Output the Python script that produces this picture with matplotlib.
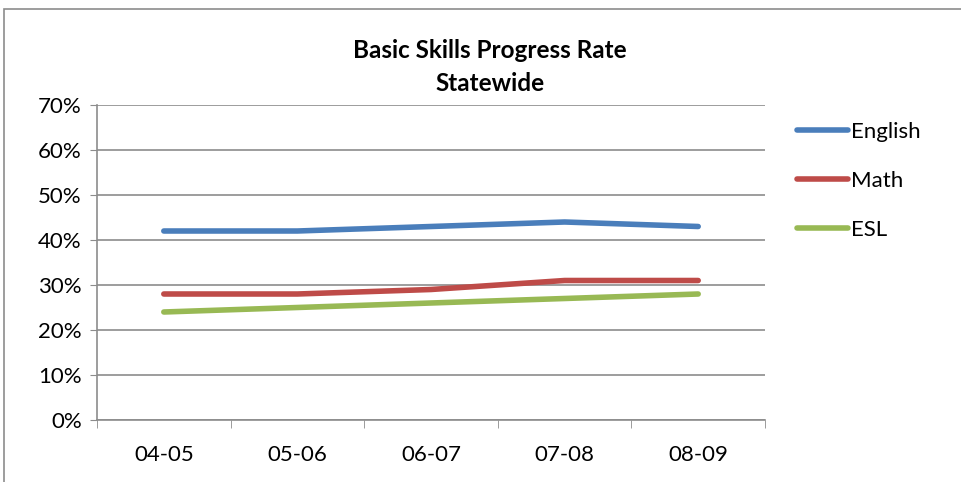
import numpy as np
import matplotlib.pyplot as plt
from matplotlib.patches import Rectangle

years = ['04-05', '05-06', '06-07', '07-08', '08-09']
english = [42, 42, 43, 44, 43]
math = [28, 28, 29, 31, 31]
esl = [24, 25, 26, 27, 28]

series = [('English', english, '#4a7ebb'),
          ('Math', math, '#be4b48'),
          ('ESL', esl, '#98b954')]

plt.rcParams['font.family'] = ['Lato', 'DejaVu Sans']

fig = plt.figure(figsize=(9.61, 4.82), dpi=100)
fig.patches.append(Rectangle((4 / 961, -0.1), 1.2, (482 - 9) / 482 + 0.1,
                             transform=fig.transFigure, fill=False,
                             edgecolor='#8c8c8c', linewidth=1.2))

ax = fig.add_axes([97 / 961, 62 / 482, 668 / 961, 315 / 482])
x = np.arange(len(years))
for name, vals, color in series:
    ax.plot(x, vals, color=color, linewidth=4, label=name,
            solid_capstyle='round')

ax.set_xlim(-0.5, len(years) - 0.5)
ax.set_ylim(0, 70)
ax.set_yticks(np.arange(0, 71, 10))
ax.set_yticklabels([f'{v}%' for v in range(0, 71, 10)], fontsize=16)
ax.yaxis.grid(True, color='#8c8c8c', linewidth=1.2)
ax.set_axisbelow(True)
ax.tick_params(axis='y', length=5, color='#8c8c8c', pad=6)

ax.set_xticks(x)
ax.set_xticklabels(years, fontsize=16)
ax.set_xticks(np.arange(-0.5, len(years)), minor=True)
ax.tick_params(axis='x', which='major', length=0, pad=18)
ax.tick_params(axis='x', which='minor', length=6, color='#8c8c8c')

for s in ['top', 'right']:
    ax.spines[s].set_visible(False)
for s in ['left', 'bottom']:
    ax.spines[s].set_color('#8c8c8c')
    ax.spines[s].set_linewidth(1.2)

fig.text(0.51, 0.896, 'Basic Skills Progress Rate', ha='center', va='center',
         fontsize=17.5, fontweight='bold')
fig.text(0.51, 0.826, 'Statewide', ha='center', va='center',
         fontsize=17.5, fontweight='bold')

ax.legend(loc='upper left', bbox_to_anchor=(1.018, 1.01), frameon=False,
          fontsize=16, handlelength=2.3, handletextpad=0.15, labelspacing=1.3)

fig.savefig('out.png', dpi=100)
